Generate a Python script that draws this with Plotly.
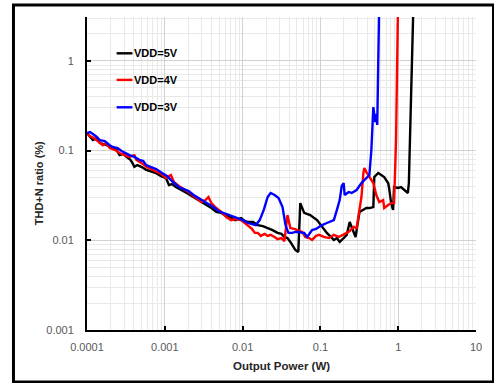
import plotly.graph_objects as go

# ---------------- data (Output Power in W, THD+N in %) ----------------
vdd5_x = [1.0e-4, 1.091e-4, 1.191e-4, 1.339e-4, 1.462e-4, 1.642e-4, 1.794e-4, 2.137e-4, 2.401e-4, 2.623e-4,
          2.947e-4, 3.217e-4, 3.614e-4, 3.835e-4, 4.064e-4, 4.44e-4, 4.99e-4, 5.77e-4, 6.68e-4, 7.73e-4,
          8.95e-4, 1.035e-3, 1.13e-3, 1.233e-3, 1.386e-3, 1.652e-3, 1.911e-3, 2.213e-3, 2.561e-3, 2.964e-3,
          3.43e-3, 3.97e-3, 4.59e-3, 5.32e-3, 6.15e-3, 6.92e-3, 8.01e-3, 9.55e-3, 0.0107, 0.0117,
          0.0136, 0.0157, 0.0182, 0.0210, 0.0243, 0.0281, 0.0316, 0.0345, 0.0377, 0.0411,
          0.0449, 0.0476, 0.0520, 0.0551, 0.0619, 0.0738, 0.0906, 0.105, 0.121, 0.136,
          0.149, 0.163, 0.177, 0.199, 0.218, 0.238, 0.259, 0.283, 0.318, 0.357,
          0.390, 0.426, 0.479, 0.493, 0.554, 0.605, 0.661, 0.743, 0.764, 0.811,
          0.859, 0.885, 0.994, 1.086, 1.186, 1.331, 1.371, 1.61]
vdd5_y = [0.157, 0.142, 0.131, 0.138, 0.1215, 0.118, 0.115, 0.107, 0.102, 0.089,
          0.092, 0.085, 0.079, 0.073, 0.066, 0.069, 0.066, 0.061, 0.059, 0.056,
          0.052, 0.0495, 0.0413, 0.0424, 0.0393, 0.0364, 0.0337, 0.0312, 0.0289, 0.0267,
          0.0247, 0.0229, 0.0207, 0.0202, 0.0187, 0.0182, 0.0168, 0.0177, 0.0164, 0.0160,
          0.0160, 0.0148, 0.0144, 0.0137, 0.0130, 0.0121, 0.0118, 0.0109, 0.0106, 0.0096,
          0.0086, 0.0078, 0.0074, 0.0260, 0.0202, 0.0191, 0.0168, 0.0141, 0.0121, 0.0109,
          0.0101, 0.0106, 0.0096, 0.0106, 0.0115, 0.0160, 0.0134, 0.0109, 0.0207, 0.0218,
          0.0229, 0.0229, 0.0235, 0.0508, 0.0563, 0.0535, 0.0508, 0.0435, 0.0383, 0.0260,
          0.0218, 0.0393, 0.0383, 0.0393, 0.0364, 0.0337, 0.0435, 10.3]

vdd4_x = [1.0e-4, 1.091e-4, 1.227e-4, 1.378e-4, 1.595e-4, 1.741e-4, 1.958e-4, 2.266e-4, 2.623e-4, 3.035e-4,
          3.513e-4, 4.064e-4, 4.31e-4, 4.99e-4, 5.77e-4, 6.68e-4, 7.73e-4, 8.95e-4, 1.035e-3, 1.198e-3,
          1.307e-3, 1.513e-3, 1.751e-3, 2.026e-3, 2.346e-3, 2.715e-3, 2.964e-3, 3.33e-3, 3.64e-3, 3.97e-3,
          4.59e-3, 5.32e-3, 6.15e-3, 7.13e-3, 8.25e-3, 9.55e-3, 0.0107, 0.0117, 0.0132, 0.0144,
          0.0157, 0.0171, 0.0192, 0.0210, 0.0229, 0.0258, 0.0281, 0.0316, 0.0345, 0.0377,
          0.0411, 0.0462, 0.0505, 0.0584, 0.0638, 0.0717, 0.0782, 0.0879, 0.0960, 0.111,
          0.129, 0.149, 0.172, 0.199, 0.218, 0.238, 0.267, 0.292, 0.318, 0.337,
          0.357, 0.368, 0.390, 0.426, 0.479, 0.523, 0.571, 0.641, 0.661, 0.743,
          0.811, 0.885, 0.938, 1.009]
vdd4_y = [0.157, 0.1455, 0.138, 0.128, 0.115, 0.1215, 0.107, 0.102, 0.094, 0.089,
          0.085, 0.089, 0.079, 0.073, 0.066, 0.062, 0.058, 0.055, 0.0495, 0.0535,
          0.0447, 0.0403, 0.0373, 0.0346, 0.0312, 0.0281, 0.0267, 0.0281, 0.0304, 0.0260,
          0.0229, 0.0207, 0.0182, 0.0168, 0.0173, 0.0168, 0.0156, 0.0148, 0.0134, 0.0121,
          0.0121, 0.0112, 0.0118, 0.0112, 0.0115, 0.0109, 0.0103, 0.0106, 0.0098, 0.0191,
          0.0137, 0.0134, 0.0130, 0.0124, 0.0109, 0.0106, 0.0101, 0.0112, 0.0115, 0.0109,
          0.0106, 0.0115, 0.0109, 0.0115, 0.0121, 0.0127, 0.0141, 0.0137, 0.0235, 0.0304,
          0.0563, 0.0640, 0.0577, 0.0508, 0.0435, 0.0320, 0.0267, 0.0281, 0.0229, 0.0247,
          0.0260, 0.0260, 0.131, 10.3]

vdd3_x = [1.0e-4, 1.091e-4, 1.191e-4, 1.339e-4, 1.462e-4, 1.691e-4, 1.958e-4, 2.137e-4, 2.473e-4, 2.782e-4,
          3.127e-4, 3.513e-4, 4.064e-4, 4.71e-4, 5.29e-4, 5.77e-4, 6.68e-4, 7.73e-4, 9.21e-4, 1.066e-3,
          1.198e-3, 1.346e-3, 1.513e-3, 1.751e-3, 2.026e-3, 2.346e-3, 2.715e-3, 3.142e-3, 3.64e-3, 4.21e-3,
          4.87e-3, 5.64e-3, 6.53e-3, 7.56e-3, 8.75e-3, 0.0101, 0.0117, 0.0132, 0.0148, 0.0166,
          0.0187, 0.0210, 0.0229, 0.0258, 0.0290, 0.0326, 0.0356, 0.0388, 0.0436, 0.0476,
          0.0535, 0.0584, 0.0619, 0.0676, 0.0738, 0.0782, 0.0879, 0.096, 0.105, 0.121,
          0.132, 0.149, 0.163, 0.177, 0.188, 0.199, 0.205, 0.231, 0.252, 0.292,
          0.337, 0.390, 0.426, 0.452, 0.479, 0.508, 0.523, 0.538, 0.579]
vdd3_y = [0.157, 0.161, 0.153, 0.142, 0.131, 0.128, 0.115, 0.110, 0.107, 0.099,
          0.094, 0.089, 0.085, 0.079, 0.0766, 0.069, 0.0656, 0.0623, 0.0563, 0.0521,
          0.047, 0.0435, 0.0393, 0.0373, 0.0355, 0.032, 0.0296, 0.0274, 0.0254, 0.0235,
          0.0212, 0.0202, 0.0191, 0.0182, 0.0177, 0.0168, 0.0156, 0.0152, 0.0148, 0.0168,
          0.0218, 0.0304, 0.0337, 0.0320, 0.0296, 0.0235, 0.0148, 0.0121, 0.0121, 0.0124,
          0.0124, 0.0121, 0.0121, 0.0109, 0.0121, 0.0130, 0.0134, 0.0141, 0.0148, 0.0156,
          0.0160, 0.0168, 0.0218, 0.0281, 0.0403, 0.0435, 0.0320, 0.0346, 0.0337, 0.0364,
          0.0435, 0.0495, 0.0535, 0.1016, 0.306, 0.208, 0.256, 0.193, 10.3]

series_names = ["VDD=5V", "VDD=4V", "VDD=3V"]
series_colors = ["#000000", "#FF0000", "#0000FF"]

x_tick_vals = [0.0001, 0.001, 0.01, 0.1, 1, 10]
x_tick_text = ["0.0001", "0.001", "0.01", "0.1", "1", "10"]
y_tick_vals = [0.001, 0.01, 0.1, 1]
y_tick_text = ["0.001", "0.01", "0.1", "1"]

x_title = "Output Power (W)"
y_title = "THD+N ratio (%)"

# ---------------- figure ----------------
FONT = "Arial, Liberation Sans, Helvetica, sans-serif"
fig = go.Figure()
for xs, ys, name, col in zip([vdd5_x, vdd4_x, vdd3_x], [vdd5_y, vdd4_y, vdd3_y],
                             series_names, series_colors):
    fig.add_trace(go.Scatter(x=xs, y=ys, mode="lines", name=name,
                             line=dict(color=col, width=2.4), showlegend=False))

axis_common = dict(
    type="log", showline=True, linecolor="#000000", linewidth=2,
    ticks="inside", ticklen=4, tickwidth=2, tickcolor="#000000",
    showgrid=True, gridcolor="#D2D2D2", gridwidth=1,
    minor=dict(dtick="D1", showgrid=True, gridcolor="#E9E9E9", gridwidth=1, ticks=""),
    zeroline=False, tickfont=dict(family=FONT, size=11, color="#595959"),
    mirror=False,
)
fig.update_xaxes(range=[-4, 1], tickvals=x_tick_vals, ticktext=x_tick_text,
                 ticklabelstandoff=6, **axis_common)
fig.update_yaxes(range=[-3, 0.49], tickvals=y_tick_vals, ticktext=y_tick_text,
                 ticklabelstandoff=9, **axis_common)

# legend drawn manually (short line samples with bold labels)
leg_y = [0.884, 0.799, 0.7115]
shapes = []
annotations = []
for name, col, yy in zip(series_names, series_colors, leg_y):
    shapes.append(dict(type="line", xref="paper", yref="paper", x0=0.0761, x1=0.1168,
                       y0=yy, y1=yy, line=dict(color=col, width=2.4)))
    annotations.append(dict(xref="paper", yref="paper", x=0.1168, y=yy, xanchor="left",
                            yanchor="middle", showarrow=False, text="<b>%s</b>" % name,
                            font=dict(family=FONT, size=11, color="#000000")))

# outer frame
shapes.append(dict(type="rect", xref="paper", yref="paper", x0=-0.189, x1=1.045,
                   y0=-0.166, y1=1.0383, line=dict(color="#000000", width=3),
                   fillcolor="rgba(0,0,0,0)", layer="above"))

annotations.append(dict(xref="paper", yref="paper", x=0.5, y=-0.115, xanchor="center",
                        yanchor="middle", showarrow=False, text="<b>%s</b>" % x_title,
                        font=dict(family=FONT, size=11.5, color="#262626")))
annotations.append(dict(xref="paper", yref="paper", x=-0.124, y=0.468, xanchor="center",
                        yanchor="middle", showarrow=False, text="<b>%s</b>" % y_title,
                        textangle=-90, font=dict(family=FONT, size=11, color="#262626")))

fig.update_layout(
    width=494, height=383,
    margin=dict(l=87, r=13, t=17, b=53),
    paper_bgcolor="#FFFFFF", plot_bgcolor="#FFFFFF",
    shapes=shapes, annotations=annotations, showlegend=False,
)

fig.write_html("out.html")
